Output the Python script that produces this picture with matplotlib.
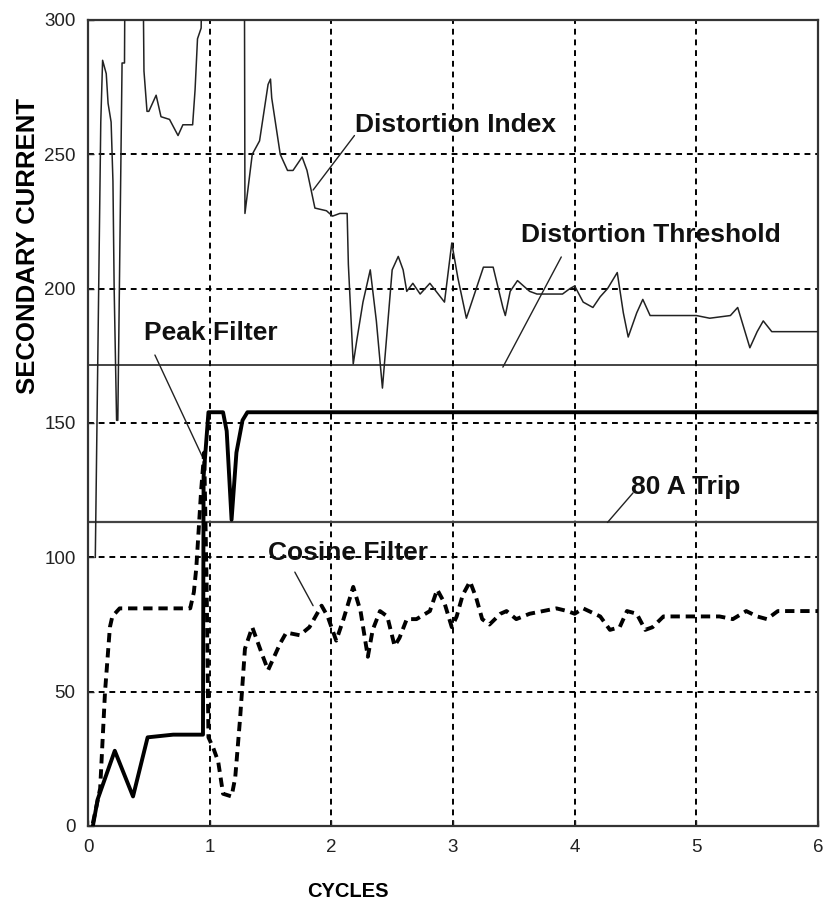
import matplotlib
matplotlib.use("Agg")
import matplotlib.pyplot as plt

# ---------------- data ----------------
x_ticks = [0, 1, 2, 3, 4, 5, 6]
y_ticks = [0, 50, 100, 150, 200, 250, 300]

dist_x = [0.06, 0.105, 0.12, 0.15, 0.165, 0.19, 0.205, 0.215, 0.235, 0.245, 0.26, 0.28, 0.30, 0.305,
          0.45, 0.46, 0.485, 0.50, 0.56, 0.60, 0.67, 0.74, 0.78, 0.86, 0.88, 0.90, 0.93, 0.94,
          1.285, 1.29, 1.35, 1.41, 1.48, 1.50, 1.51, 1.58, 1.64, 1.685, 1.76, 1.80, 1.865, 1.96,
          2.01, 2.07, 2.13, 2.14, 2.18, 2.21, 2.26, 2.32, 2.37, 2.42, 2.46, 2.50, 2.55, 2.59, 2.62,
          2.67, 2.73, 2.81, 2.93, 2.99, 3.04, 3.11, 3.25, 3.33, 3.41, 3.43, 3.47, 3.53, 3.63, 3.69,
          3.90, 3.96, 4.00, 4.07, 4.15, 4.21, 4.27, 4.35, 4.40, 4.44, 4.51, 4.56, 4.62, 5.00, 5.11,
          5.28, 5.34, 5.44, 5.50, 5.55, 5.62, 6.0]
dist_y = [100, 262, 285, 280, 269, 262, 240, 200, 151, 151, 208, 284, 284, 330,
          330, 281, 266, 266, 272, 264, 263, 257, 261, 261, 274, 293, 297, 330,
          330, 228, 250, 255, 276, 278, 271, 250, 244, 244, 249, 244, 230, 229,
          227, 228, 228, 209, 172, 181, 195, 207, 188, 163, 185, 207, 212, 207, 199,
          202, 198, 202, 195, 217, 204, 189, 208, 208, 193, 190, 199, 203, 199, 198,
          198, 200, 201, 195, 193, 197, 200, 206, 191, 182, 191, 196, 190, 190, 189,
          190, 193, 178, 184, 188, 184, 184]

cos_x = [0.04, 0.10, 0.14, 0.18, 0.20, 0.26, 0.84, 0.87, 0.89, 0.93, 0.955, 0.975, 0.99, 1.03,
         1.07, 1.11, 1.18, 1.21, 1.25, 1.29, 1.35, 1.43, 1.48, 1.58, 1.63, 1.74, 1.82, 1.92,
         1.97, 2.04, 2.10, 2.18, 2.24, 2.30, 2.34, 2.40, 2.46, 2.52, 2.56, 2.62, 2.70, 2.81,
         2.87, 2.93, 2.99, 3.03, 3.08, 3.14, 3.19, 3.24, 3.30, 3.39, 3.44, 3.52, 3.63, 3.74,
         3.85, 3.94, 4.00, 4.07, 4.21, 4.29, 4.37, 4.43, 4.51, 4.58, 4.64, 4.73, 5.00, 5.19,
         5.30, 5.41, 5.50, 5.58, 5.67, 6.0]
cos_y = [1, 14, 50, 74, 78, 81, 81, 87, 96, 125, 139, 90, 33, 29,
         24, 12, 11, 18, 40, 66, 74, 64, 58, 68, 72, 71, 74, 82,
         78, 69, 77, 89, 80, 63, 73, 80, 78, 67, 70, 77, 77, 80,
         88, 83, 74, 78, 86, 91, 85, 77, 75, 79, 80, 77, 79, 80,
         81, 80, 79, 81, 78, 73, 74, 80, 79, 73, 74, 78, 78, 78,
         77, 80, 78, 77, 80, 80]

peak_x = [0.04, 0.08, 0.22, 0.37, 0.49, 0.70, 0.945, 0.95, 0.99, 1.11, 1.14, 1.18, 1.22, 1.27, 1.31, 6.0]
peak_y = [0, 10, 28, 11, 33, 34, 34, 130, 154, 154, 147, 114, 139, 151, 154, 154]

distortion_threshold = 171.5
trip_level = 113

# ---------------- figure ----------------
plt.rcParams["font.family"] = ["Liberation Sans", "DejaVu Sans"]

fig = plt.figure(figsize=(8.23, 9.15), dpi=100)
ax = fig.add_axes([88 / 823, 89 / 915, 730 / 823, 806 / 915])

grid_ls = (0, (3, 2.5))
for gx in x_ticks[1:-1]:
    ax.axvline(gx, color="black", lw=1.4, ls=grid_ls, zorder=1)
for gy in y_ticks[1:-1]:
    ax.axhline(gy, color="black", lw=1.4, ls=grid_ls, zorder=1)

ax.axhline(distortion_threshold, color="#111111", lw=1.1, zorder=2)
ax.axhline(trip_level, color="#444444", lw=1.6, zorder=2)

ax.plot(dist_x, dist_y, color="#222222", lw=1.1, zorder=3)
ax.plot(cos_x, cos_y, color="black", lw=2.8, ls=(0, (2.4, 1.5)), zorder=4)
ax.plot(peak_x, peak_y, color="black", lw=2.8, zorder=5)

ax.set_xlim(0, 6)
ax.set_ylim(0, 300)
ax.set_xticks(x_ticks)
ax.set_yticks(y_ticks)
ax.tick_params(direction="in", length=4, width=1, labelsize=13.5, pad=9, colors="#222222")
for s in ax.spines.values():
    s.set_linewidth(1.6)
    s.set_color("#333333")

ax.set_xlabel("CYCLES", fontsize=14.5, fontweight="bold")
ax.set_ylabel("SECONDARY CURRENT", fontsize=18.5, fontweight="bold")
ax.xaxis.set_label_coords(0.356, -0.069)
ax.yaxis.set_label_coords(-0.066, 0.72)

ann_fs = 19
ann_kw = dict(fontsize=ann_fs, fontweight="bold", ha="center", va="center", color="#111111")
arrow = dict(arrowstyle="-", color="#222222", lw=1.0, shrinkA=0, shrinkB=0)
ax.text(3.02, 261, "Distortion Index", **ann_kw)
ax.annotate("", xy=(1.85, 236.7), xytext=(2.19, 257), arrowprops=arrow)
ax.text(4.63, 220, "Distortion Threshold", **ann_kw)
ax.annotate("", xy=(3.41, 170.8), xytext=(3.89, 211.8), arrowprops=arrow)
ax.text(1.01, 183.5, "Peak Filter", **ann_kw)
ax.annotate("", xy=(0.96, 135.5), xytext=(0.55, 175.3), arrowprops=arrow)
ax.text(4.91, 126, "80 A Trip", **ann_kw)
ax.annotate("", xy=(4.27, 113), xytext=(4.48, 124), arrowprops=arrow)
ax.text(2.14, 101.6, "Cosine Filter", **ann_kw)
ax.annotate("", xy=(1.85, 82), xytext=(1.70, 94.5), arrowprops=arrow)

fig.savefig("out.png", dpi=100)
